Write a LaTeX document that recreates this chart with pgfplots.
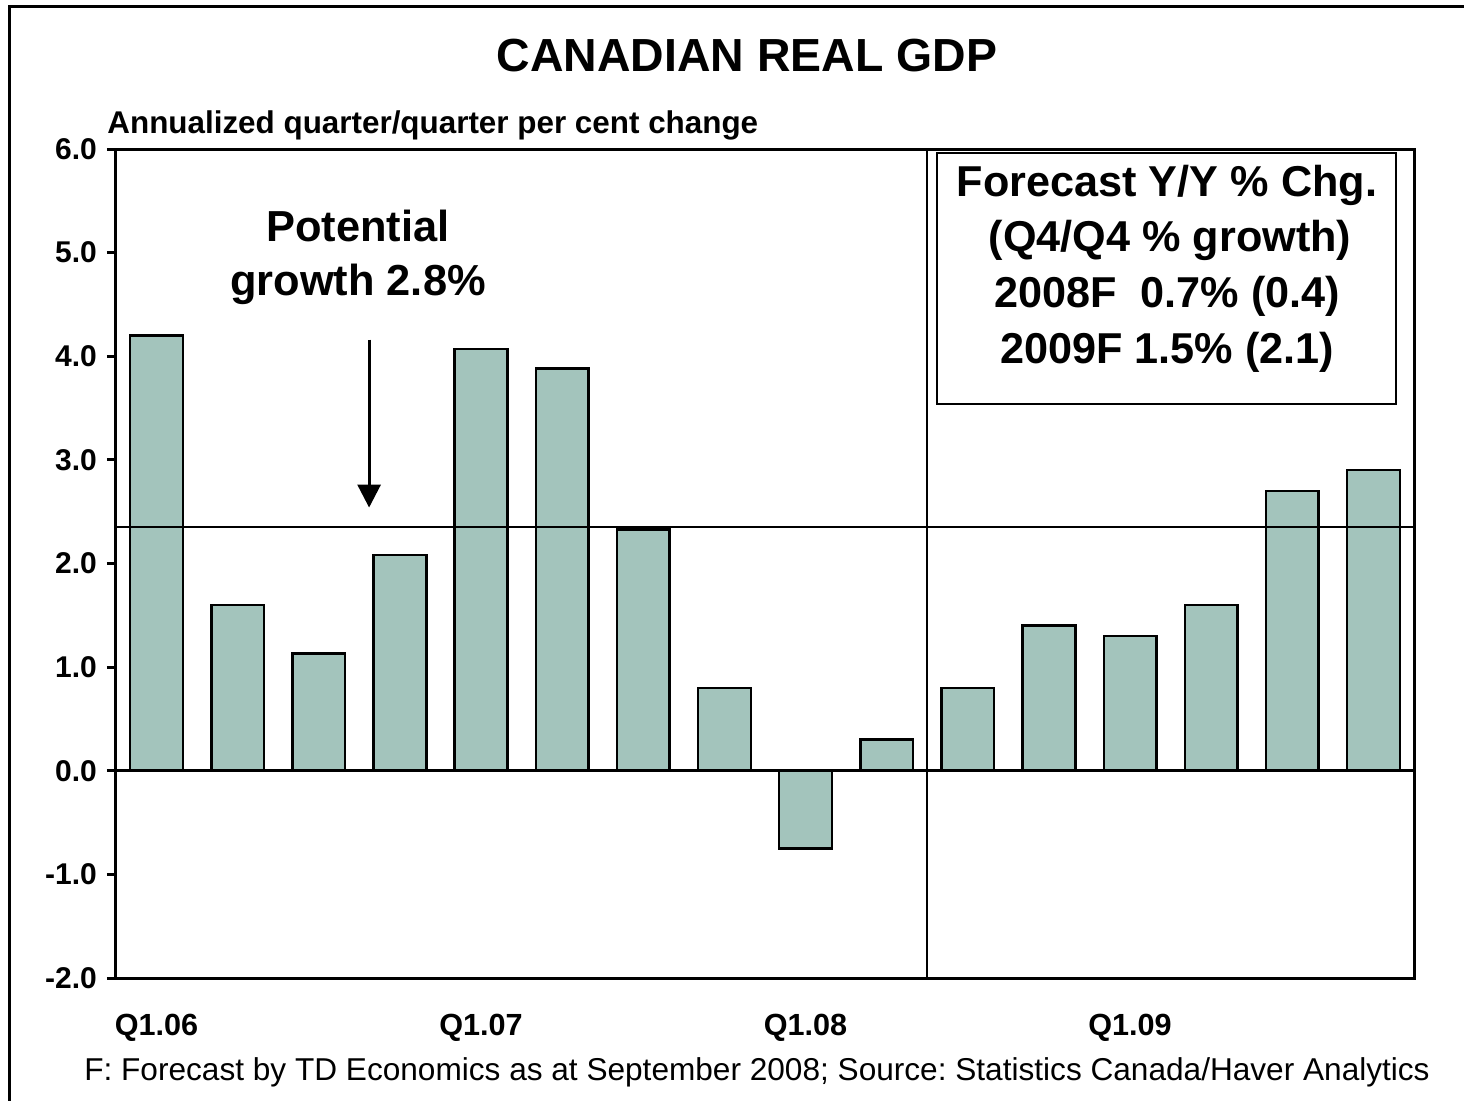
\documentclass[border=0pt]{standalone}
\usepackage{pgfplots}
\pgfplotsset{compat=1.18}
\usepackage{fontspec}
\setmainfont{Liberation Sans}
\usetikzlibrary{arrows.meta}
\definecolor{barfill}{RGB}{163,196,188}
\frenchspacing
\begin{document}
\begin{tikzpicture}
\begin{axis}[
    name=gdp,
    at={(0,0)}, anchor=south west,
    scale only axis,
    width=649pt, height=414.5pt,
    xmin=-0.5, xmax=15.5,
    ymin=-2, ymax=6,
    ytick={-2,-1,0,1,2,3,4,5,6},
    xtick={0,4,8,12},
    xticklabels={Q1.06,Q1.07,Q1.08,Q1.09},
    xtick style={draw=none},
    ytick pos=left,
    tick align=outside,
    major tick length=4.5pt,
    ytick style={line width=1.5pt, black},
    axis line style={line width=1.5pt},
    yticklabel style={font=\fontsize{15}{17}\selectfont\bfseries, xshift=-1.5pt},
    xticklabel style={font=\fontsize{15.3}{17}\selectfont\bfseries, anchor=base, yshift=-24pt},
    /pgf/number format/.cd, fixed, fixed zerofill, precision=1, assume math mode=true,
    /pgfplots/.cd,
    clip=false,
]
\addplot[ybar, bar width=0.65, fill=barfill, draw=black, line width=1.2pt]
  coordinates {(0,4.2) (1,1.6) (2,1.13) (3,2.08) (4,4.07) (5,3.88) (6,2.33) (7,0.8)
               (8,-0.75) (9,0.3) (10,0.8) (11,1.4) (12,1.3) (13,1.6) (14,2.7) (15,2.9)};
% zero line, potential growth line, forecast divider
\draw[line width=1.5pt] (axis cs:-0.5,0) -- (axis cs:15.5,0);
\draw[line width=1pt] (axis cs:-0.5,2.355) -- (axis cs:15.5,2.355);
\draw[line width=1pt] (axis cs:9.5,6) -- (axis cs:9.5,-2);
\draw[line width=1pt, fill=white] (axis cs:9.62,5.96) rectangle (axis cs:15.28,3.54);
\draw[line width=1.5pt, -{Triangle[length=11.5pt,width=11.5pt]}] (axis cs:2.62,4.16) -- (axis cs:2.62,2.54);
\end{axis}
% text outside the axis, in pt from the axis corner
\node[anchor=base, font=\fontsize{23.2}{26}\selectfont\bfseries] at (315.5pt,453pt) {CANADIAN REAL GDP};
\node[anchor=base west, inner sep=0pt, font=\fontsize{15.7}{18}\selectfont\bfseries] at (-4.5pt,422pt) {Annualized quarter/quarter per cent change};
\node[anchor=base, font=\fontsize{21.7}{24}\selectfont\bfseries] at (121pt,368pt) {Potential};
\node[anchor=base, font=\fontsize{21.7}{24}\selectfont\bfseries] at (121pt,341pt) {growth 2.8\%};
\node[anchor=base, font=\fontsize{21.6}{24}\selectfont\bfseries] at (525.5pt,390.5pt) {Forecast Y/Y \% Chg.};
\node[anchor=base, font=\fontsize{21.6}{24}\selectfont\bfseries] at (527pt,363pt) {(Q4/Q4 \% growth)};
\node[anchor=base, font=\fontsize{21.6}{24}\selectfont\bfseries] at (525.5pt,335pt) {2008F\ \ 0.7\% (0.4)};
\node[anchor=base, font=\fontsize{21.6}{24}\selectfont\bfseries] at (525.5pt,307pt) {2009F 1.5\% (2.1)};
\node[anchor=base, font=\fontsize{15.8}{18}\selectfont] at (320.5pt,-51pt) {F: Forecast by TD Economics as at September 2008; Source: Statistics Canada/Haver Analytics};
% outer frame (only left and top edges fall inside the picture)
\draw[line width=1.5pt] (-53pt,-80pt) -- (-53pt,485.5pt) -- (700pt,485.5pt);
\pgfresetboundingbox
\path[use as bounding box] (-58pt,-61pt) rectangle (674pt,489pt);
\end{tikzpicture}
\end{document}
